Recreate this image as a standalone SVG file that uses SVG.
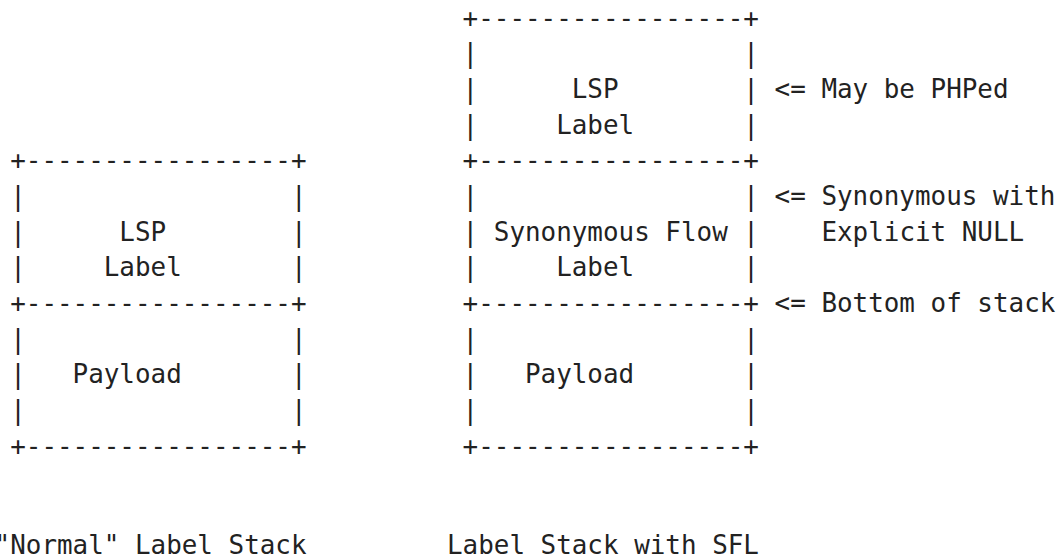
<svg xmlns="http://www.w3.org/2000/svg" width="1058" height="559" viewBox="0 0 1058 559">
<style>
text{font-family:"DejaVu Sans Mono","Liberation Mono",monospace;font-size:25.92px;fill:#222;white-space:pre}
</style>
<rect width="1058" height="559" fill="#fff"/>
<g id="left-stack">
<text x="10.2" y="169.3" xml:space="preserve">+-----------------+</text>
<text x="10.2" y="204.95" xml:space="preserve">|                 |</text>
<text x="10.2" y="240.6" xml:space="preserve">|      LSP        |</text>
<text x="10.2" y="276.25" xml:space="preserve">|     Label       |</text>
<text x="10.2" y="311.9" xml:space="preserve">+-----------------+</text>
<text x="10.2" y="347.55" xml:space="preserve">|                 |</text>
<text x="10.2" y="383.2" xml:space="preserve">|   Payload       |</text>
<text x="10.2" y="418.85" xml:space="preserve">|                 |</text>
<text x="10.2" y="454.5" xml:space="preserve">+-----------------+</text>
</g>
<g id="right-stack">
<text x="462.6" y="26.7" xml:space="preserve">+-----------------+</text>
<text x="462.6" y="62.35" xml:space="preserve">|                 |</text>
<text x="462.6" y="98" xml:space="preserve">|      LSP        |</text>
<text x="462.6" y="133.65" xml:space="preserve">|     Label       |</text>
<text x="462.6" y="169.3" xml:space="preserve">+-----------------+</text>
<text x="462.6" y="204.95" xml:space="preserve">|                 |</text>
<text x="462.6" y="240.6" xml:space="preserve">| Synonymous Flow |</text>
<text x="462.6" y="276.25" xml:space="preserve">|     Label       |</text>
<text x="462.6" y="311.9" xml:space="preserve">+-----------------+</text>
<text x="462.6" y="347.55" xml:space="preserve">|                 |</text>
<text x="462.6" y="383.2" xml:space="preserve">|   Payload       |</text>
<text x="462.6" y="418.85" xml:space="preserve">|                 |</text>
<text x="462.6" y="454.5" xml:space="preserve">+-----------------+</text>
</g>
<g id="annotations">
<text x="774.6" y="98" xml:space="preserve">&lt;= May be PHPed</text>
<text x="774.6" y="204.95" xml:space="preserve">&lt;= Synonymous with</text>
<text x="821.4" y="240.6" xml:space="preserve">Explicit NULL</text>
<text x="774.6" y="311.9" xml:space="preserve">&lt;= Bottom of stack</text>
</g>
<g id="captions">
<text x="-5.4" y="554" xml:space="preserve">"Normal" Label Stack</text>
<text x="447" y="554" xml:space="preserve">Label Stack with SFL</text>
</g>
</svg>
